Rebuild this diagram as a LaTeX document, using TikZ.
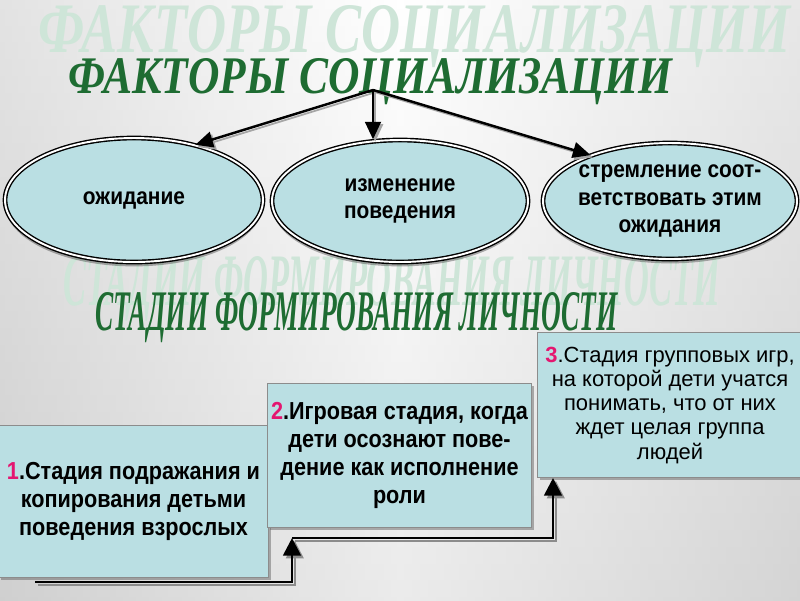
\documentclass[tikz,border=0pt]{standalone}
\usepackage{fontspec}
\setmainfont{Liberation Sans}
\newfontfamily\titlefont{Liberation Serif}
\newfontfamily\boxfont[FakeStretch=0.88]{Liberation Sans}
\usepackage{graphicx}
\usetikzlibrary{shapes.geometric, arrows.meta, calc, shadows}

\definecolor{boxfill}{RGB}{186,223,227}
\definecolor{titlegreen}{RGB}{30,108,50}
\definecolor{ghostgreen}{RGB}{206,229,216}
\definecolor{stageno}{RGB}{228,22,112}

\begin{document}
\begin{tikzpicture}[
    x=0.02cm, y=-0.02cm,
    ghost/.style={text=ghostgreen, font=\titlefont\bfseries\itshape, inner sep=0pt, anchor=base west},
    heading/.style={text=titlegreen, font=\titlefont\bfseries\itshape, inner sep=0pt, anchor=base west},
    factor/.style={ellipse, draw=black, line width=0.8pt, double=white, double distance=1.1pt, fill=boxfill,
        drop shadow={shadow xshift=0pt, shadow yshift=-2.5pt, opacity=0.45, fill=black!70}},
    factortext/.style={font=\boxfont\bfseries\fontsize{13.5}{15.5}\selectfont, align=center, inner sep=0pt},
    stagebox/.style={rectangle, draw=black!45, line width=0.6pt, fill=boxfill, anchor=north west, inner sep=2pt,
        align=center, font=\boxfont\bfseries\fontsize{14}{15.8}\selectfont,
        drop shadow={shadow xshift=1.2pt, shadow yshift=-1.2pt, opacity=0.5, fill=black!60}},
    link/.style={draw=black, line width=1.4pt, -{Triangle[length=10pt, width=9pt]},
        preaction={draw=black!35, line width=1pt, transform canvas={shift={(1.3pt,-1.3pt)}}}},
    stepline/.style={draw=black, line width=1.6pt, -{Triangle[length=10pt, width=10pt]},
        preaction={draw=black!45, line width=1.4pt, transform canvas={shift={(1.6pt,-1.6pt)}}}},
]
    % background
    \useasboundingbox (0,0) rectangle (800,600);
    \shade[left color=black!24, right color=black!20, middle color=white] (0,0) rectangle (800,600);
    \shade[top color=white, bottom color=black!14, opacity=0.55] (0,0) rectangle (800,600);

    % titles
    \node[ghost] (ghost1) at (38,52) {\resizebox{15.04cm}{0.94cm}{ФАКТОРЫ СОЦИАЛИЗАЦИИ}};
    \node[heading] (title1) at (68,93) {\resizebox{12.08cm}{0.7cm}{ФАКТОРЫ СОЦИАЛИЗАЦИИ}};
    \node[ghost] (ghost2) at (63,305) {\resizebox{13.14cm}{0.98cm}{СТАДИИ ФОРМИРОВАНИЯ ЛИЧНОСТИ}};
    \node[heading] (title2) at (95,330) {\resizebox{10.44cm}{0.76cm}{СТАДИИ ФОРМИРОВАНИЯ ЛИЧНОСТИ}};

    % factors
    \node[factor, minimum width=5.16cm, minimum height=2.48cm] (ozh) at (134,200) {};
    \node[factor, minimum width=5.12cm, minimum height=2.44cm] (izm) at (400,201) {};
    \node[factor, minimum width=5.08cm, minimum height=2.32cm] (strm) at (670,201) {};
    \node[factortext] (ozh-t) at (ozh) {ожидание};
    \node[factortext] (izm-t) at (izm) {изменение\\поведения};
    \node[factortext] (strm-t) at (strm) {стремление соот-\\ветствовать этим\\ожидания};

    \coordinate (apex) at (373,90);
    \draw[link] (apex) -- (ozh.42);
    \draw[link] (apex) -- (apex |- izm.north);
    \draw[link] (apex) -- (strm.150);

    % stages
    \node[stagebox, minimum width=5.4cm, minimum height=3.04cm] (st1) at (-2,425)
        {\textcolor{stageno}{1}.Стадия подражания и\\копирования детьми\\поведения взрослых};
    \node[stagebox, minimum width=5.22cm, minimum height=2.88cm] (st2) at (267,383)
        {\textcolor{stageno}{2}.Игровая стадия, когда\\дети осознают пове-\\дение как исполнение\\роли};
    \node[stagebox, minimum width=5.3cm, minimum height=2.9cm, font=\rmfamily\fontsize{12.5}{13.8}\selectfont] (st3) at (537,332)
        {\textcolor{stageno}{\bfseries 3}.Стадия групповых игр,\\на которой дети учатся\\понимать, что от них\\ждет целая группа\\людей};

    \coordinate (s1) at (35,582);
    \coordinate (s2) at (292,538);
    \coordinate (e2) at (553,478);
    \draw[stepline] (s1) -| (s2);
    \draw[stepline] (s2) -| (e2);
\end{tikzpicture}
\end{document}
